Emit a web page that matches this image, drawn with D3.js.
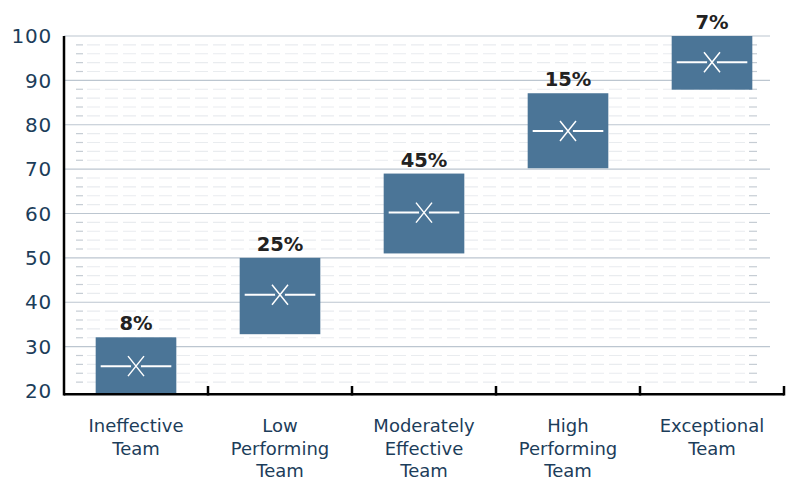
<!DOCTYPE html>
<html>
<head>
<meta charset="utf-8">
<script src="https://cdn.jsdelivr.net/npm/d3@7"></script>
<style>
  body { margin: 0; background: #fff; }
  svg { display: block; font-family: "DejaVu Sans", sans-serif; }
</style>
</head>
<body>
<svg id="chart" width="791" height="481"></svg>
<script>
const categories = [
  ["Ineffective", "Team"],
  ["Low", "Performing", "Team"],
  ["Moderately", "Effective", "Team"],
  ["High", "Performing", "Team"],
  ["Exceptional", "Team"]
];
const shares = ["8%", "25%", "45%", "15%", "7%"];
const lows = [19.2, 32.8, 51.0, 70.2, 87.9];
const highs = [32.1, 50.0, 69.0, 87.1, 100];
const medians = [25.6, 41.7, 60.2, 78.6, 94.1];
const means = [25.6, 41.7, 60.2, 78.6, 94.1];
const yTicks = [20, 30, 40, 50, 60, 70, 80, 90, 100];

const svg = d3.select("#chart");
const boxColor = "#4b7597";
const navy = "#1c3d5a";

const x = d3.scaleBand()
  .domain(d3.range(categories.length))
  .range([64, 784])
  .padding(0);

const y = d3.scaleLinear().domain([20, 100]).range([391, 36]);

// minor dashed gridlines every 2
const minor = d3.range(22, 100, 2).filter(v => v % 10 !== 0);
const grid = svg.append("g");
grid.selectAll("line.minor")
  .data(minor)
  .enter().append("line")
  .attr("x1", 87).attr("x2", 745)
  .attr("y1", d => y(d)).attr("y2", d => y(d))
  .attr("stroke", "#e9ecef")
  .attr("stroke-width", 1.2)
  .attr("stroke-dasharray", "13,5");
grid.selectAll("line.minorL")
  .data(minor)
  .enter().append("line")
  .attr("x1", 76).attr("x2", 83)
  .attr("y1", d => y(d)).attr("y2", d => y(d))
  .attr("stroke", "#c6cdd4")
  .attr("stroke-width", 1.2);
grid.selectAll("line.minorR")
  .data(minor)
  .enter().append("line")
  .attr("x1", 749).attr("x2", 757)
  .attr("y1", d => y(d)).attr("y2", d => y(d))
  .attr("stroke", "#c6cdd4")
  .attr("stroke-width", 1.2);

// major gridlines
grid.selectAll("line.major")
  .data(yTicks.slice(1))
  .enter().append("line")
  .attr("x1", 64).attr("x2", 770)
  .attr("y1", d => y(d)).attr("y2", d => y(d))
  .attr("stroke", "#bcc6d0")
  .attr("stroke-width", 1.2);

// y labels
svg.append("g").selectAll("text")
  .data(yTicks)
  .enter().append("text")
  .attr("x", 52)
  .attr("y", d => y(d))
  .attr("dy", "0.36em")
  .attr("text-anchor", "end")
  .attr("font-size", 20)
  .attr("letter-spacing", 0.8)
  .attr("fill", navy)
  .text(d => d);

// boxes
const bw = x.bandwidth() * 0.56;
const cx = i => x(i) + x.bandwidth() / 2;
const boxes = svg.append("g").selectAll("g")
  .data(d3.range(categories.length))
  .enter().append("g");

boxes.append("rect")
  .attr("x", i => cx(i) - bw / 2)
  .attr("width", bw)
  .attr("y", i => y(highs[i]))
  .attr("height", i => y(lows[i]) - y(highs[i]))
  .attr("fill", boxColor);

boxes.append("line")
  .attr("x1", i => cx(i) - bw / 2 + 5)
  .attr("x2", i => cx(i) + bw / 2 - 5)
  .attr("y1", i => y(medians[i]))
  .attr("y2", i => y(medians[i]))
  .attr("stroke", "#fff")
  .attr("stroke-width", 2);

boxes.append("circle")
  .attr("cx", cx)
  .attr("cy", i => y(means[i]))
  .attr("r", 5)
  .attr("fill", boxColor);

boxes.append("path")
  .attr("d", i => {
    const mx = cx(i), my = y(means[i]);
    return `M${mx - 8},${my - 10}L${mx + 8},${my + 10}M${mx + 8},${my - 10}L${mx - 8},${my + 10}`;
  })
  .attr("stroke", "#fff")
  .attr("stroke-width", 1.5)
  .attr("fill", "none");

boxes.append("text")
  .attr("x", cx)
  .attr("y", i => y(highs[i]) - 7)
  .attr("text-anchor", "middle")
  .attr("font-size", 19.5)
  .attr("font-weight", "bold")
  .attr("fill", "#222")
  .text(i => shares[i]);

// axes
svg.append("line")
  .attr("x1", 64).attr("x2", 64)
  .attr("y1", y(100)).attr("y2", 395.5)
  .attr("stroke", "#000").attr("stroke-width", 2.5);
svg.append("line")
  .attr("x1", 64).attr("x2", 784)
  .attr("y1", 394.3).attr("y2", 394.3)
  .attr("stroke", "#000").attr("stroke-width", 2.5);
svg.append("g").selectAll("line")
  .data(d3.range(1, categories.length + 1))
  .enter().append("line")
  .attr("x1", i => x.range()[0] + i * x.step())
  .attr("x2", i => x.range()[0] + i * x.step())
  .attr("y1", 386).attr("y2", 395.5)
  .attr("stroke", "#000").attr("stroke-width", 2.5);

// category labels
const cat = svg.append("g").selectAll("text")
  .data(d3.range(categories.length))
  .enter().append("text")
  .attr("x", cx)
  .attr("y", 432)
  .attr("text-anchor", "middle")
  .attr("font-size", 18)
  .attr("fill", navy);
cat.selectAll("tspan")
  .data(i => categories[i].map(t => ({ t, i })))
  .enter().append("tspan")
  .attr("x", d => cx(d.i))
  .attr("dy", (d, j) => j === 0 ? 0 : 22.5)
  .text(d => d.t);
</script>
</body>
</html>
